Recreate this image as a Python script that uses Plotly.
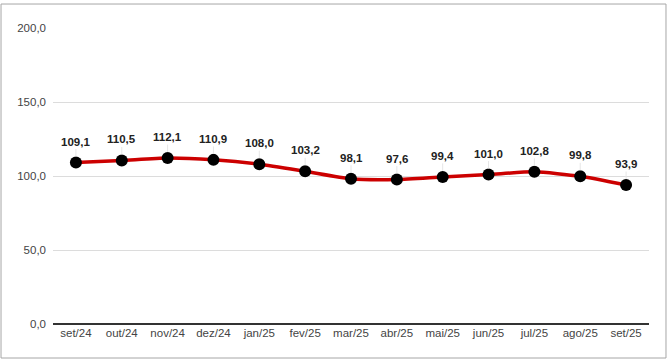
import plotly.graph_objects as go

categories = ["set/24", "out/24", "nov/24", "dez/24", "jan/25", "fev/25", "mar/25",
              "abr/25", "mai/25", "jun/25", "jul/25", "ago/25", "set/25"]
values = [109.1, 110.5, 112.1, 110.9, 108.0, 103.2, 98.1, 97.6, 99.4, 101.0, 102.8, 99.8, 93.9]
y_ticks = [0, 50, 100, 150, 200]

FONT = "Liberation Sans, Arial, sans-serif"

fig = go.Figure()
fig.add_trace(go.Scatter(
    x=categories, y=values, mode="lines+markers",
    line=dict(color="#cc0000", width=3.5, shape="spline", smoothing=0.6),
    marker=dict(color="#000000", size=12),
    hoverinfo="skip", showlegend=False,
))

for c, v in zip(categories, values):
    fig.add_annotation(
        x=c, y=v, text="<b>" + f"{v:.1f}".replace(".", ",") + "</b>",
        showarrow=True, arrowhead=0, arrowwidth=1, arrowcolor="#e6e6e6",
        ax=0, ay=-21, standoff=6,
        font=dict(family=FONT, size=11.5, color="#222222"),
    )

fig.add_shape(type="rect", xref="paper", yref="paper",
              x0=-0.0872, x1=1.0285, y0=-0.1149, y1=1.081,
              line=dict(color="#a6a6a6", width=1), fillcolor="rgba(0,0,0,0)", layer="below")

fig.update_layout(
    width=670, height=362,
    margin=dict(l=53, r=21, t=28, b=38),
    paper_bgcolor="white", plot_bgcolor="white",
    separators=",.",
    font=dict(family=FONT, size=11, color="#444444"),
    xaxis=dict(
        type="category", range=[-0.5, 12.5], showgrid=False, ticks="",
        showline=False, zeroline=False,
        tickfont=dict(family=FONT, size=11.5, color="#444444"),
    ),
    yaxis=dict(
        range=[0, 200], tickvals=y_ticks, tickformat=".1f",
        showgrid=True, gridcolor="#dcdcdc", gridwidth=1,
        zeroline=True, zerolinecolor="#333333", zerolinewidth=1.5,
        showline=False, ticks="", ticklabelstandoff=6,
        tickfont=dict(family=FONT, size=11.5, color="#444444"),
    ),
)

fig.write_html("out.html", config={"displayModeBar": False},
               post_script="document.body.style.margin='0';document.body.style.overflow='hidden';")
